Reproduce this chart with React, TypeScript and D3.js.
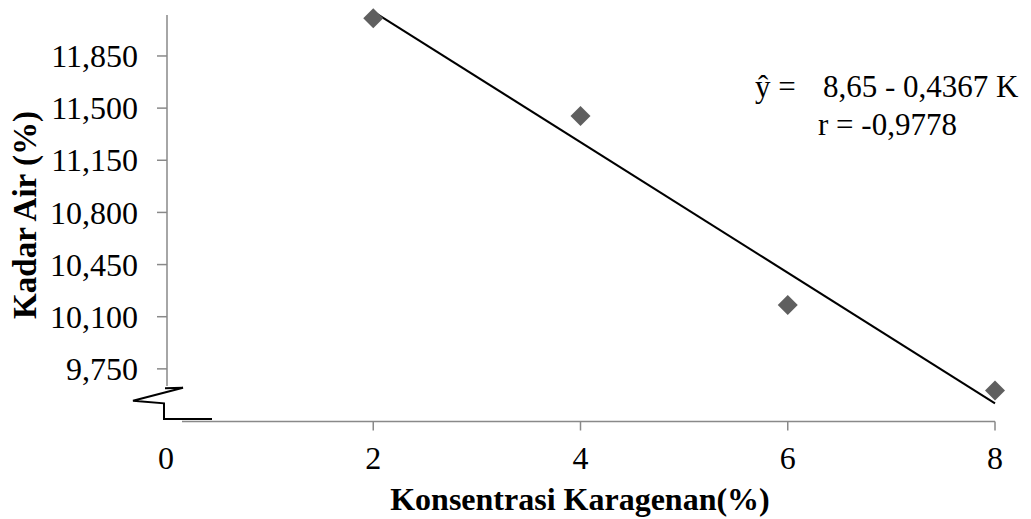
import React, { useEffect, useRef } from 'react'
import * as d3 from 'd3'

// concentration of carrageenan (%)
const konsentrasi = [2, 4, 6, 8]
// water content
const kadarAir = [12103, 11447, 10179, 9604]
const yTicks = [9750, 10100, 10450, 10800, 11150, 11500, 11850]
const xTicks = [0, 2, 4, 6, 8]
const persamaan = ['ŷ =', '8,65 - 0,4367 K']
const korelasi = 'r = -0,9778'

const W = 1031
const H = 519
const FONT = '"Liberation Serif", "Times New Roman", serif'

export default function App () {
  const ref = useRef<SVGSVGElement>(null)

  useEffect(() => {
    const svg = d3.select(ref.current)
    svg.selectAll('*').remove()

    const x = d3.scaleLinear().domain([0, 8]).range([166, 995])
    const y = d3.scaleLinear().domain([9635, 12125]).range([386, 15])
    const axisColor = '#898989'
    const xAxisY = 421.5

    // y axis line + ticks
    svg.append('line')
      .attr('x1', x(0) + 1).attr('x2', x(0) + 1)
      .attr('y1', y(12125)).attr('y2', y(9635))
      .attr('stroke', axisColor).attr('stroke-width', 1.5)
    const gy = svg.append('g')
    gy.selectAll('line').data(yTicks).enter().append('line')
      .attr('x1', x(0) - 9).attr('x2', x(0) + 1)
      .attr('y1', d => y(d)).attr('y2', d => y(d))
      .attr('stroke', axisColor).attr('stroke-width', 1.5)
    gy.selectAll('text').data(yTicks).enter().append('text')
      .attr('x', 138).attr('y', d => y(d))
      .attr('dy', '0.35em')
      .attr('text-anchor', 'end')
      .style('font-family', FONT).style('font-size', '32px')
      .text(d => d3.format(',')(d))

    // x axis line + ticks
    svg.append('line')
      .attr('x1', 182).attr('x2', x(8))
      .attr('y1', xAxisY).attr('y2', xAxisY)
      .attr('stroke', axisColor).attr('stroke-width', 1.5)
    const gx = svg.append('g')
    gx.selectAll('line').data(xTicks.filter(d => d > 0)).enter().append('line')
      .attr('x1', d => x(d)).attr('x2', d => x(d))
      .attr('y1', xAxisY).attr('y2', xAxisY + 9)
      .attr('stroke', axisColor).attr('stroke-width', 1.5)
    gx.selectAll('text').data(xTicks).enter().append('text')
      .attr('x', d => x(d)).attr('y', 469)
      .attr('text-anchor', 'middle')
      .style('font-family', FONT).style('font-size', '32px')
      .text(d => d)

    // axis break mark
    const ox = x(0)
    svg.append('path')
      .attr('d', `M${ox - 1},388.3 L${ox + 17},387.7 L${ox - 33},400.7 L${ox - 2},403.3 L${ox - 2},419 L${ox + 46},419`)
      .attr('fill', 'none').attr('stroke', '#000').attr('stroke-width', 2)

    // trend line (least squares)
    const mx = d3.mean(konsentrasi) as number
    const my = d3.mean(kadarAir) as number
    const sxy = d3.sum(konsentrasi, (k, i) => (k - mx) * (kadarAir[i] - my))
    const sxx = d3.sum(konsentrasi, k => (k - mx) * (k - mx))
    const b = sxy / sxx
    const a = my - b * mx
    svg.append('line')
      .attr('x1', x(2)).attr('y1', y(a + b * 2))
      .attr('x2', x(8)).attr('y2', y(a + b * 8))
      .attr('stroke', '#000').attr('stroke-width', 2)

    // points
    svg.selectAll('.pt').data(konsentrasi).enter().append('path')
      .attr('class', 'pt')
      .attr('d', d3.symbol().type(d3.symbolSquare).size(200))
      .attr('transform', (d, i) => `translate(${x(d)},${y(kadarAir[i])}) rotate(45)`)
      .attr('fill', '#5f5f5f')

    // equation
    svg.append('text').attr('x', 755).attr('y', 97)
      .style('font-family', FONT).style('font-size', '31px')
      .text(persamaan[0])
    svg.append('text').attr('x', 823).attr('y', 97)
      .style('font-family', FONT).style('font-size', '31px')
      .text(persamaan[1])
    svg.append('text').attr('x', 818).attr('y', 135)
      .style('font-family', FONT).style('font-size', '31px')
      .text(korelasi)

    // titles
    svg.append('text')
      .attr('x', 580).attr('y', 510)
      .attr('text-anchor', 'middle')
      .style('font-family', FONT).style('font-size', '32px').style('font-weight', 'bold')
      .text('Konsentrasi Karagenan(%)')
    svg.append('text')
      .attr('transform', 'translate(36,215) rotate(-90)')
      .attr('text-anchor', 'middle')
      .style('font-family', FONT).style('font-size', '33px').style('font-weight', 'bold')
      .text('Kadar Air (%)')
  }, [])

  return (
    <svg ref={ref} width={W} height={H}
      style={{ position: 'absolute', left: 0, top: 0, background: '#fff' }} />
  )
}
